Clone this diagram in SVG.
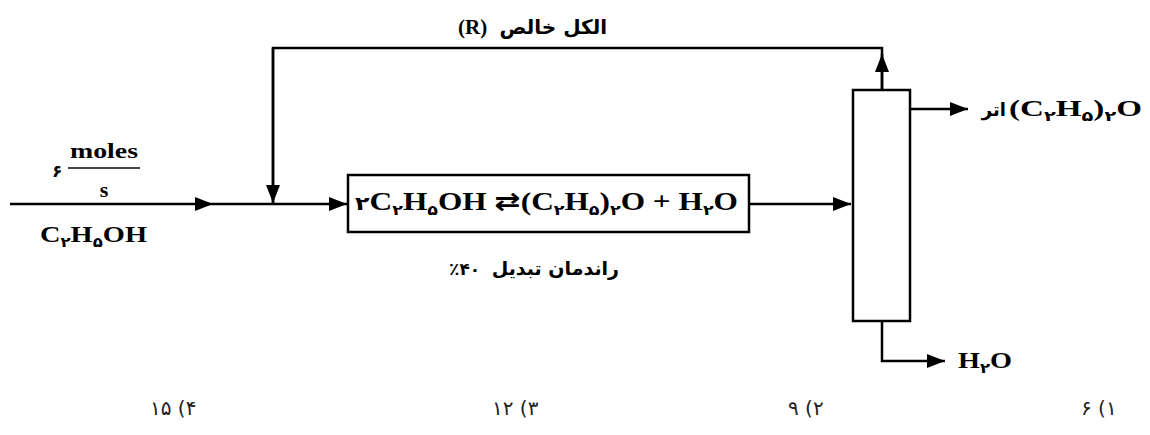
<svg xmlns="http://www.w3.org/2000/svg" width="1150" height="435" viewBox="0 0 1150 435">
<style>
.ln{fill:none;stroke:#000;stroke-width:2.5}
.shape{fill:#fff;stroke:#000;stroke-width:2.5}
.chem{font-family:"Liberation Serif","DejaVu Sans",serif;font-weight:bold;fill:#000}
.fa{font-family:"DejaVu Sans","Noto Sans",sans-serif;font-weight:bold;fill:#000}
.opt{font-family:"DejaVu Sans","Noto Sans",sans-serif;font-size:20px;fill:#222;unicode-bidi:bidi-override;direction:ltr}
.sub{font-size:14px;font-family:"DejaVu Sans",sans-serif}
</style>
<defs>
<marker id="ah" markerUnits="userSpaceOnUse" markerWidth="18" markerHeight="14" refX="18" refY="7" orient="auto">
<path d="M0 0 L18 7 L0 14 Z" fill="#000"/>
</marker>
</defs>
<g id="connectors">
<path class="ln" d="M10 204 H213" marker-end="url(#ah)"/>
<path class="ln" d="M213 204 H347" marker-end="url(#ah)"/>
<path class="ln" d="M882 90 V48 H273 V204"/>
<path class="ln" d="M882 90 V54" marker-end="url(#ah)"/>
<path class="ln" d="M273 48 V203" marker-end="url(#ah)"/>
<path class="ln" d="M749 204 H851" marker-end="url(#ah)"/>
<path class="ln" d="M910 109 H968" marker-end="url(#ah)"/>
<path class="ln" d="M882 321 V361 H945" marker-end="url(#ah)"/>
</g>
<g id="reactor">
<rect class="shape" x="348" y="175" width="401" height="57"/>
<text class="chem" x="355" y="210" font-size="25" textLength="383" lengthAdjust="spacingAndGlyphs"><tspan font-size="19" font-family="DejaVu Sans, sans-serif">۲</tspan>C<tspan class="sub" dy="5">۲</tspan><tspan dy="-5">H</tspan><tspan class="sub" dy="5">۵</tspan><tspan dy="-5">OH ⇄(C</tspan><tspan class="sub" dy="5">۲</tspan><tspan dy="-5">H</tspan><tspan class="sub" dy="5">۵</tspan><tspan dy="-5">)</tspan><tspan class="sub" dy="5">۲</tspan><tspan dy="-5">O + H</tspan><tspan class="sub" dy="5">۲</tspan><tspan dy="-5">O</tspan></text>
<text class="fa" x="619" y="275" font-size="19" text-anchor="end">راندمان تبدیل</text>
<text class="fa" x="449" y="275" font-size="17" style="unicode-bidi:bidi-override;direction:ltr">٪۴۰</text>
</g>
<g id="separator">
<rect class="shape" x="853" y="90" width="57" height="231"/>
</g>
<g id="feed">
<text class="fa" x="52" y="177" font-size="17">۶</text>
<text class="chem" x="70" y="158" font-size="22" textLength="68" lengthAdjust="spacingAndGlyphs">moles</text>
<line x1="68" y1="168" x2="140" y2="168" stroke="#444" stroke-width="2"/>
<text class="chem" x="104" y="197" font-size="22" text-anchor="middle">s</text>
<text class="chem" x="40" y="242" font-size="24" textLength="107" lengthAdjust="spacingAndGlyphs">C<tspan class="sub" dy="5">۲</tspan><tspan dy="-5">H</tspan><tspan class="sub" dy="5">۵</tspan><tspan dy="-5">OH</tspan></text>
</g>
<g id="recycle">
<text class="chem" x="458" y="34" font-size="21">(R)</text>
<text class="fa" x="607" y="34" font-size="20" text-anchor="end">الکل خالص</text>
</g>
<g id="ether">
<text class="fa" x="1006" y="116" font-size="18" text-anchor="end">اتر</text>
<text class="chem" x="1009" y="116" font-size="24" textLength="133" lengthAdjust="spacingAndGlyphs">(C<tspan class="sub" dy="5">۲</tspan><tspan dy="-5">H</tspan><tspan class="sub" dy="5">۵</tspan><tspan dy="-5">)</tspan><tspan class="sub" dy="5">۲</tspan><tspan dy="-5">O</tspan></text>
</g>
<g id="water">
<text class="chem" x="958" y="368" font-size="24" textLength="54" lengthAdjust="spacingAndGlyphs">H<tspan class="sub" dy="5">۲</tspan><tspan dy="-5">O</tspan></text>
</g>
<g id="options">
<text class="opt" x="150" y="415">۱۵ (۴</text>
<text class="opt" x="492" y="415">۱۲ (۳</text>
<text class="opt" x="788" y="415">۹ (۲</text>
<text class="opt" x="1081" y="415">۶ (۱</text>
</g>
</svg>
